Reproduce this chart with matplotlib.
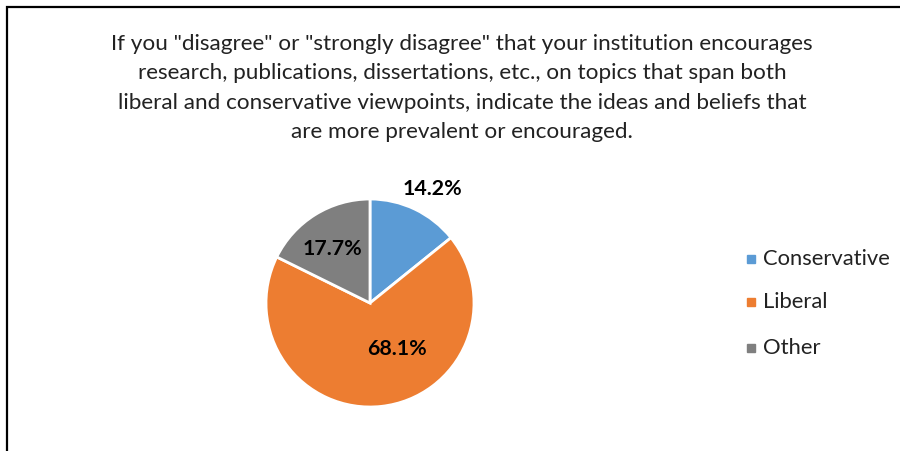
import matplotlib.pyplot as plt
from matplotlib.patches import Rectangle

plt.rcParams['font.family'] = ['Lato', 'DejaVu Sans']

categories = ['Conservative', 'Liberal', 'Other']
shares = [14.2, 68.1, 17.7]
colors = ['#5B9BD5', '#ED7D31', '#7F7F7F']
title = ('If you "disagree" or "strongly disagree" that your institution encourages\n'
         'research, publications, dissertations, etc., on topics that span both\n'
         'liberal and conservative viewpoints, indicate the ideas and beliefs that\n'
         'are more prevalent or encouraged.')

# label spots in pie units (Excel "best fit" placement)
label_xy = [(0.6, 1.1), (0.26, -0.44), (-0.36, 0.52)]

fig = plt.figure(figsize=(9, 4.51), dpi=100)

# chart border, only top and left are inside the crop
fig.add_artist(Rectangle((7 / 900, -0.1), 1.2, (451 - 7) / 451 + 0.1,
                         transform=fig.transFigure, fill=False,
                         edgecolor='black', linewidth=1.6))

fig.text(462 / 900, 1 - 88 / 451, title, ha='center', va='center',
         fontsize=16.2, color='#222222', linespacing=1.6)

cx, cy, r = 370, 303, 104
ax = fig.add_axes([(cx - r) / 900, (451 - cy - r) / 451, 2 * r / 900, 2 * r / 451])
wedges, texts = ax.pie(shares, colors=colors, startangle=90, counterclock=False,
                       wedgeprops=dict(edgecolor='white', linewidth=2))
ax.set_xlim(-1, 1)
ax.set_ylim(-1, 1)
ax.set_aspect('equal')

for val, (x, y) in zip(shares, label_xy):
    ax.text(x, y, f'{val:.1f}%', ha='center', va='center', fontsize=15.4,
            fontweight='bold', color='black')

# legend
leg_y = [259, 302, 348]
for name, col, y in zip(categories, colors, leg_y):
    fig.add_artist(Rectangle((747 / 900, 1 - (y + 4) / 451), 8 / 900, 8 / 451,
                             transform=fig.transFigure, color=col))
    fig.text(763 / 900, 1 - y / 451, name, ha='left', va='center',
             fontsize=15.8, color='#222222')

fig.savefig('out.png', dpi=100)
